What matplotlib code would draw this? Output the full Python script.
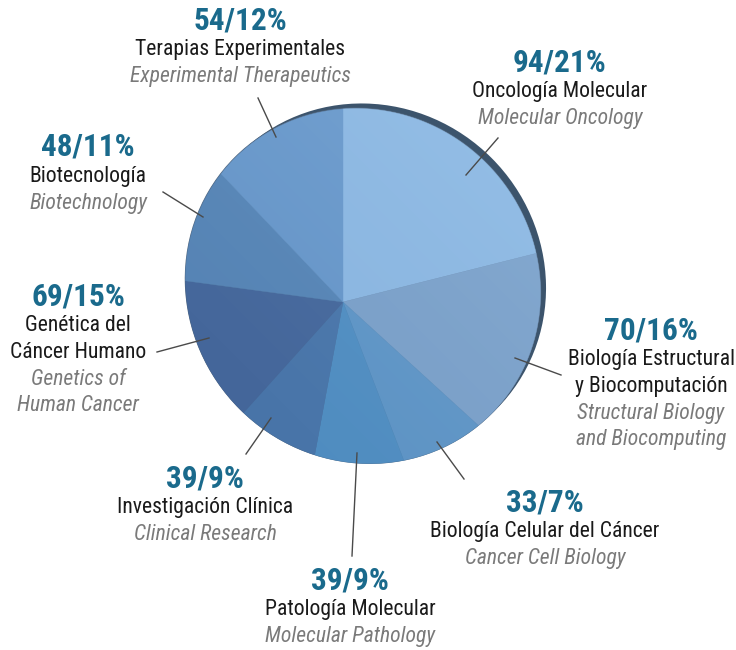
import matplotlib
matplotlib.use("Agg")
import numpy as np
import matplotlib.pyplot as plt
from matplotlib.patches import Polygon, Ellipse
import logging
logging.getLogger('matplotlib.font_manager').setLevel(logging.ERROR)

FONT = ['Roboto Condensed', 'Liberation Sans Narrow', 'Arial Narrow', 'Liberation Sans', 'DejaVu Sans']

categories_es = ["Oncología Molecular", "Biología Estructural\ny Biocomputación",
                 "Biología Celular del Cáncer", "Patología Molecular",
                 "Investigación Clínica", "Genética del\nCáncer Humano",
                 "Biotecnología", "Terapias Experimentales"]
categories_en = ["Molecular Oncology", "Structural Biology\nand Biocomputing",
                 "Cancer Cell Biology", "Molecular Pathology",
                 "Clinical Research", "Genetics of\nHuman Cancer",
                 "Biotechnology", "Experimental Therapeutics"]
counts = [94, 70, 33, 39, 39, 69, 48, 54]
percents = [21, 16, 7, 9, 9, 15, 11, 12]

colors = ["#8ab5e0", "#799ec7", "#5d93c4", "#4f8cc0", "#4874a8", "#44669a", "#5583b4", "#6695c8"]

label_pos = [(560, 62), (651, 330), (545, 502), (350, 580), (205, 478), (78, 296), (88, 147), (240, 20)]
leaders = [((466, 175), (498, 138)), ((515, 358), (561, 375)), ((437, 442), (464, 479)),
           ((357, 453), (352, 556)), ((271, 418), (246, 454)), ((209, 338), (157, 352)),
           ((203, 217), (163, 192)), ((276, 137), (258, 98))]

W, H = 736, 650
fig = plt.figure(figsize=(W / 100, H / 100), dpi=100)
ax = fig.add_axes([0, 0, 1, 1])

def Y(y):
    return H - y

# pie geometry (pixels, y down): apex of slices and outline ellipse
apex = np.array([343.0, 302.0])
ecen = np.array([363.0, 286.0])
ea, eb, ephi = 174.0, 181.0, np.deg2rad(45)   # ea along 45deg axis

u = np.array([np.cos(ephi), -np.sin(ephi)])
v = np.array([np.sin(ephi), np.cos(ephi)])

def edge_point(theta_deg):
    t = np.deg2rad(theta_deg)
    d = np.array([np.cos(t), -np.sin(t)])
    p0 = apex - ecen
    A = (d @ u) ** 2 / ea ** 2 + (d @ v) ** 2 / eb ** 2
    B = 2 * ((p0 @ u) * (d @ u) / ea ** 2 + (p0 @ v) * (d @ v) / eb ** 2)
    C = (p0 @ u) ** 2 / ea ** 2 + (p0 @ v) ** 2 / eb ** 2 - 1
    s = (-B + np.sqrt(B * B - 4 * A * C)) / (2 * A)
    return apex + s * d

# rim / shadow behind the disc
ax.add_patch(Ellipse((ecen[0] + 5.5, Y(ecen[1] - 5.0)), 2 * ea, 2 * eb, angle=45,
                     facecolor="#3c546c", edgecolor="none", zorder=1))
ax.add_patch(Ellipse((ecen[0], Y(ecen[1] - 0.3)), 2 * ea + 1.4, 2 * eb + 1.4, angle=45,
                     facecolor="#50667e", edgecolor="none", zorder=1.5))

fracs = np.array(counts, dtype=float) / np.sum(counts)
start = 90.0
for i, f in enumerate(fracs):
    t1 = start
    t2 = start - f * 360
    ths = np.linspace(t1, t2, 80)
    pts = [apex] + [edge_point(t) for t in ths]
    pts = np.array([[p[0], Y(p[1])] for p in pts])
    ax.add_patch(Polygon(pts, closed=True, facecolor=colors[i], edgecolor=colors[i],
                         lw=0.3, zorder=2))
    start = t2

# soft sheen toward the upper right of the disc
clip = Ellipse((ecen[0], Y(ecen[1])), 2 * ea, 2 * eb, angle=45, facecolor="none",
               edgecolor="none", transform=ax.transData)
ax.add_patch(clip)
gx, gy = np.meshgrid(np.linspace(0, 1, 200), np.linspace(0, 1, 200))
g = np.clip((gx + gy) / 2.0, 0, 1) ** 2
rgba = np.zeros((200, 200, 4))
rgba[..., :3] = [0.75, 0.9, 1.0]
rgba[..., 3] = 0.22 * g
im = ax.imshow(rgba, extent=(ecen[0] - 185, ecen[0] + 185, Y(ecen[1] + 185), Y(ecen[1] - 185)),
               origin="lower", zorder=3, interpolation="bilinear")
im.set_clip_path(clip)

for (p0, p1) in leaders:
    ax.plot([p0[0], p1[0]], [Y(p0[1]), Y(p1[1])], color="#4a4a4a", lw=1.0, zorder=5)

step = 26.8
for i, (x, y) in enumerate(label_pos):
    ax.text(x, Y(y), f"{counts[i]}/{percents[i]}%", ha="center", va="center",
            fontsize=22.5, fontweight="bold", color="#1a6a8c", family=FONT, zorder=6)
    yy = y + 29.5
    for line in categories_es[i].split("\n"):
        ax.text(x, Y(yy), line, ha="center", va="center", fontsize=15.6,
                color="#1a1a1a", family=FONT, zorder=6)
        yy += step
    for line in categories_en[i].split("\n"):
        ax.text(x, Y(yy), line, ha="center", va="center", fontsize=15.6,
                color="#7a7a7a", style="italic", family=FONT, zorder=6)
        yy += step

ax.set_xlim(0, W)
ax.set_ylim(0, H)
ax.set_aspect("auto")
ax.axis("off")
fig.savefig("out.png", dpi=100)
